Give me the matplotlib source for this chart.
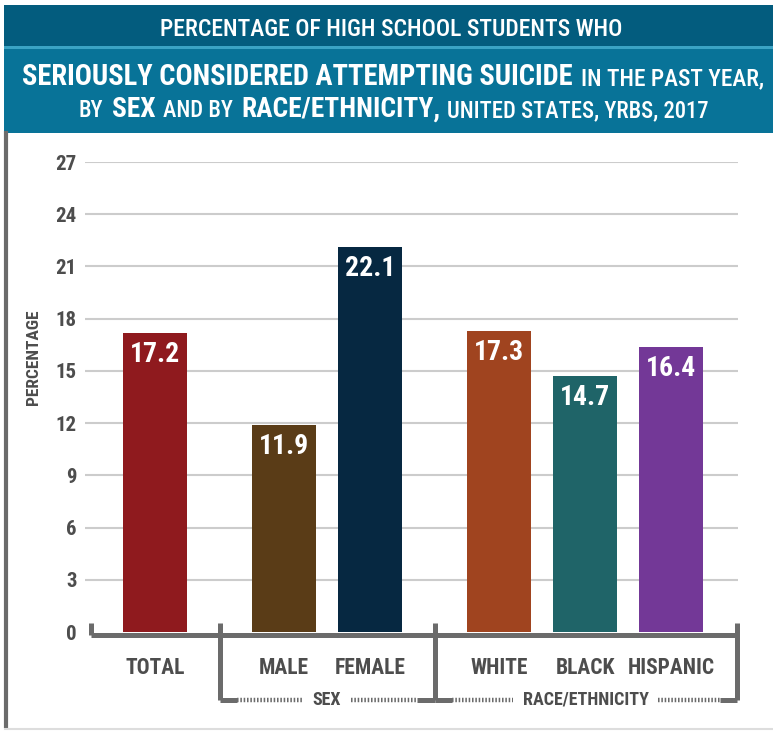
"""
YRBS 2017 - seriously considered attempting suicide, by sex and race/ethnicity
"""
import matplotlib
matplotlib.use('Agg')
import matplotlib.pyplot as plt
from matplotlib import font_manager as fm
from matplotlib.patches import Rectangle
from matplotlib.lines import Line2D

# data
categories = ['TOTAL', 'MALE', 'FEMALE', 'WHITE', 'BLACK', 'HISPANIC']
values = [17.2, 11.9, 22.1, 17.3, 14.7, 16.4]
groups = ['', 'SEX', 'RACE/ETHNICITY']
group_of = [0, 1, 1, 2, 2, 2]
yticks = [0, 3, 6, 9, 12, 15, 18, 21, 24, 27]

colors = ['#8f1a1e', '#5a3c17', '#062841', '#a0441f', '#1f6468', '#733897']
GREY = '#6b6b6b'
TXT = '#4d4d4d'


def pick_font(names):
    for n in names:
        try:
            fm.findfont(fm.FontProperties(family=n), fallback_to_default=False)
            return n
        except ValueError:
            pass
    return 'DejaVu Sans'


FONT = pick_font(['Liberation Sans Narrow', 'Roboto Condensed',
                  'Noto Sans Condensed', 'Open Sans Condensed', 'DejaVu Sans'])
plt.rcParams['font.family'] = FONT
plt.rcParams['font.stretch'] = 'condensed'

W, H = 773, 731
fig = plt.figure(figsize=(W / 100, H / 100), dpi=100)


def fx(x):
    return x / W


def fy(y):
    return 1 - y / H


# header bands
fig.add_artist(Rectangle((fx(4), fy(46)), 1, 41 / H, transform=fig.transFigure,
                         color='#035c7e', lw=0))
fig.add_artist(Rectangle((fx(4), fy(49)), 1, 3 / H, transform=fig.transFigure,
                         color='#3aa3c4', lw=0))
fig.add_artist(Rectangle((fx(4), fy(133)), 1, 84 / H, transform=fig.transFigure,
                         color='#087398', lw=0))
# frame lines left / bottom
fig.add_artist(Line2D([fx(6), fx(6)], [fy(133), fy(726)], transform=fig.transFigure,
                      color=GREY, lw=3))
fig.add_artist(Line2D([fx(5), fx(773)], [fy(729), fy(729)], transform=fig.transFigure,
                      color='#dddddd', lw=1.5))

# title rows: (baseline px, parts, target width px)
rows = [
    (36, [('PERCENTAGE OF HIGH SCHOOL STUDENTS WHO', 17, 'medium')], 465),
    (85, [('SERIOUSLY CONSIDERED ATTEMPTING SUICIDE', 20, 'bold'),
          ('IN THE PAST YEAR,', 16.5, 'medium')], 743),
    (117, [('BY', 16.5, 'medium'), ('SEX', 20, 'bold'), ('AND BY', 16.5, 'medium'),
           ('RACE/ETHNICITY,', 20, 'bold'),
           ('UNITED STATES, YRBS, 2017', 16.5, 'medium')], 629),
]
renderer = fig.canvas.get_renderer()
for base, parts, target in rows:
    texts = []
    for s, size, weight in parts:
        t = fig.text(0, fy(base), s, fontsize=size, fontweight=weight, color='white',
                     ha='left', va='baseline')
        texts.append(t)
    widths = [t.get_window_extent(renderer).width for t in texts]
    gaps = [0.32 * parts[i][1] / 0.72 for i in range(1, len(parts))]
    total = sum(widths) + sum(gaps)
    k = min(target / total, 1.12)
    x = 393 - total * k / 2
    for i, t in enumerate(texts):
        t.set_fontsize(parts[i][1] * k)
        t.set_x(fx(x))
        x += widths[i] * k
        if i < len(gaps):
            x += gaps[i] * k

# chart area
ax = fig.add_axes([fx(85), fy(632), (738 - 85) / W, (632 - 162) / H])
pos = [0, 1.5, 2.5, 4, 5, 6]
ax.bar(pos, values, width=0.735, color=colors, zorder=3)
for p, v in zip(pos, values):
    ax.annotate(f'{v:.1f}', (p, v), xytext=(0, -21), textcoords='offset points',
                ha='center', va='baseline', color='white', fontsize=20,
                fontweight='bold', zorder=4)

ax.set_xlim(-0.814, 6.779)
ax.set_ylim(0, 27)
ax.set_yticks(yticks)
ax.set_yticklabels([str(t) for t in yticks])
ax.tick_params(axis='y', length=0, pad=6, labelsize=15, labelcolor=TXT)
for lab in ax.get_yticklabels():
    lab.set_fontweight('bold')
ax.set_xticks([])
for t in yticks[1:]:
    ax.axhline(t, color='#cccccc', lw=1.5, zorder=1)
for s in ax.spines.values():
    s.set_visible(False)
ax.text(-0.814 - 51 / 86, 15.8, 'PERCENTAGE', rotation=90, ha='center', va='center',
        fontsize=12.5, fontweight='bold', color=TXT)

# axis baseline and group brackets (in data units, drawn outside the axes)
upy = 9 / 470 * 27
base_y = -2.5 / 470 * 27
bot_y = -68 / 470 * 27
lab_y = -35.5 / 470 * 27
edges = [pos[0] - 0.74]
for i in range(1, len(pos)):
    if group_of[i] != group_of[i - 1]:
        edges.append((pos[i - 1] + pos[i]) / 2)
edges.append(pos[-1] + 0.77)

kw = dict(color=GREY, lw=3.6, clip_on=False, solid_capstyle='butt', zorder=5)
ax.plot([edges[0], edges[-1]], [base_y, base_y], **kw)
ax.plot([edges[0], edges[0]], [base_y, upy], **kw)
for e in edges[1:]:
    ax.plot([e, e], [bot_y, upy], **kw)

for p, c in zip(pos, categories):
    ax.text(p, lab_y, c, ha='center', va='center', fontsize=15.5, fontweight='bold',
            color=TXT, clip_on=False)

fig.canvas.draw()
inv = ax.transData.inverted()
for g in range(1, len(groups)):
    a, b = edges[g], edges[g + 1]
    mid = (a + b) / 2
    t = ax.text(mid, bot_y, groups[g], ha='center', va='center', fontsize=13,
                fontweight='bold', color=TXT, clip_on=False)
    ext = t.get_window_extent(renderer)
    x0 = inv.transform((ext.x0, 0))[0]
    x1 = inv.transform((ext.x1, 0))[0]
    solid = 0.2
    gap = 0.11
    ax.plot([a, a + solid], [bot_y, bot_y], **kw)
    ax.plot([b - solid, b], [bot_y, bot_y], **kw)
    dkw = dict(color=GREY, lw=3.2, clip_on=False, linestyle=(0, (0.35, 0.4)),
               dash_capstyle='butt', zorder=5)
    ax.plot([a + solid, x0 - gap], [bot_y, bot_y], **dkw)
    ax.plot([x1 + gap, b - solid], [bot_y, bot_y], **dkw)

fig.savefig('out.png', dpi=100, facecolor='white')
